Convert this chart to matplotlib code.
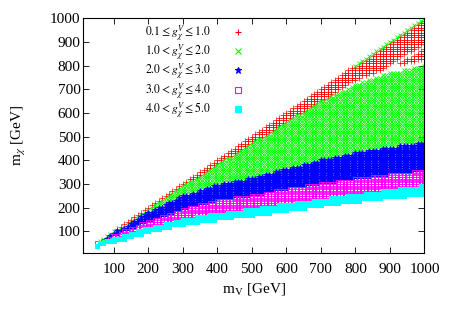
import numpy as np
import matplotlib
matplotlib.use('Agg')
import matplotlib.pyplot as plt
from matplotlib.lines import Line2D

plt.rcParams['font.family'] = ['Liberation Serif', 'DejaVu Serif']
plt.rcParams['mathtext.fontset'] = 'stix'

# band edges (m_chi in GeV at given m_V)
mv_pts = [50, 100, 200, 300, 400, 500, 600, 700, 800, 900, 1000]
cyan_lo = [40, 58, 98, 130, 152, 170, 190, 210, 228, 245, 256]
cyan_hi = [48, 70, 115, 150, 175, 195, 215, 235, 255, 275, 292]
magenta_hi = [50, 82, 142, 195, 230, 252, 278, 300, 320, 340, 356]
blue_hi = [50, 92, 180, 250, 295, 325, 365, 400, 430, 455, 476]
green_hi = [50, 100, 198, 292, 385, 472, 565, 650, 720, 770, 800]

# white gaps in the upper part (red region)
gap_mv = [700, 800, 900, 1000]
red_lo = [650, 740, 795, 828]
red_gap_ratio = [0.875, 0.895]
green_top_mv = 800

labels = [r'$0.1 \leq g_{\chi}^{V} \leq 1.0$',
          r'$1.0 < g_{\chi}^{V} \leq 2.0$',
          r'$2.0 < g_{\chi}^{V} \leq 3.0$',
          r'$3.0 < g_{\chi}^{V} \leq 4.0$',
          r'$4.0 < g_{\chi}^{V} \leq 5.0$']
colors = ['#ff0000', '#00ff00', '#0000ff', '#ff00ff', '#00ffff']
markers = ['+', 'x', '*', 's', 's']

mv_grid = np.arange(50, 1001, 10)
pts = [([], []) for _ in range(5)]
for mv in mv_grid:
    lo = np.interp(mv, mv_pts, cyan_lo)
    c_hi = np.interp(mv, mv_pts, cyan_hi)
    m_hi = np.interp(mv, mv_pts, magenta_hi)
    b_hi = np.interp(mv, mv_pts, blue_hi)
    g_hi = np.interp(mv, mv_pts, green_hi)
    r_lo = max(g_hi, np.interp(mv, gap_mv, red_lo)) if mv > 700 else g_hi
    for mc in np.arange(40, mv + 1, 10):
        if mc < lo:
            continue
        if mc <= c_hi:
            k = 4
        elif mc <= m_hi:
            k = 3
        elif mc <= b_hi:
            k = 2
        elif mc <= g_hi:
            k = 1
        elif mv >= green_top_mv and mc >= mv - 5:
            k = 1
        elif mc < r_lo:
            continue
        elif mv > 850 and red_gap_ratio[0] * mv <= mc <= red_gap_ratio[1] * mv:
            continue
        else:
            k = 0
        pts[k][0].append(mv)
        pts[k][1].append(mc)

fig = plt.figure(figsize=(4.52, 3.16), dpi=100)
ax = fig.add_axes([0.183, 0.200, 0.756, 0.742])

ax.plot(pts[0][0], pts[0][1], '+', color=colors[0], ms=4, mew=0.5)
ax.plot(pts[1][0], pts[1][1], 'x', color=colors[1], ms=3, mew=0.6)
ax.plot(pts[2][0], pts[2][1], '*', color=colors[2], ms=4, mew=0.5)
ax.plot(pts[3][0], pts[3][1], 's', mec=colors[3], mfc='none', ms=3.2, mew=0.6)
ax.plot(pts[4][0], pts[4][1], 's', color=colors[4], ms=3.6, mew=0)

ax.set_xlim(10, 1000)
ax.set_ylim(10, 1000)
ax.set_xticks(range(100, 1001, 100))
ax.set_yticks(range(100, 1001, 100))
ax.tick_params(direction='in', top=True, right=True, length=4, width=0.6, labelsize=11)
ax.tick_params(axis='x', pad=7)
ax.tick_params(axis='y', pad=1.5)
for s in ax.spines.values():
    s.set_linewidth(0.8)

ax.set_xlabel(r'm$_{\rm V}$ [GeV]', fontsize=11, labelpad=4)
ax.set_ylabel(r'm$_{\chi}$ [GeV]', fontsize=11, labelpad=16)

# legend samples (gnuplot style: text first, then the point)
handles = []
for i in range(5):
    face = 'none' if i == 3 else colors[i]
    handles.append(Line2D([], [], ls='none', marker=markers[i], ms=4.5,
                          mec=colors[i], mfc=face, mew=0.8))
ax.legend(handles, labels, loc='upper left', bbox_to_anchor=(0.165, 1.005),
          markerfirst=False, frameon=False, fontsize=8.5, handlelength=1.0,
          handletextpad=1.8, labelspacing=-0.1, borderpad=0)

fig.savefig('out.png', dpi=100)
